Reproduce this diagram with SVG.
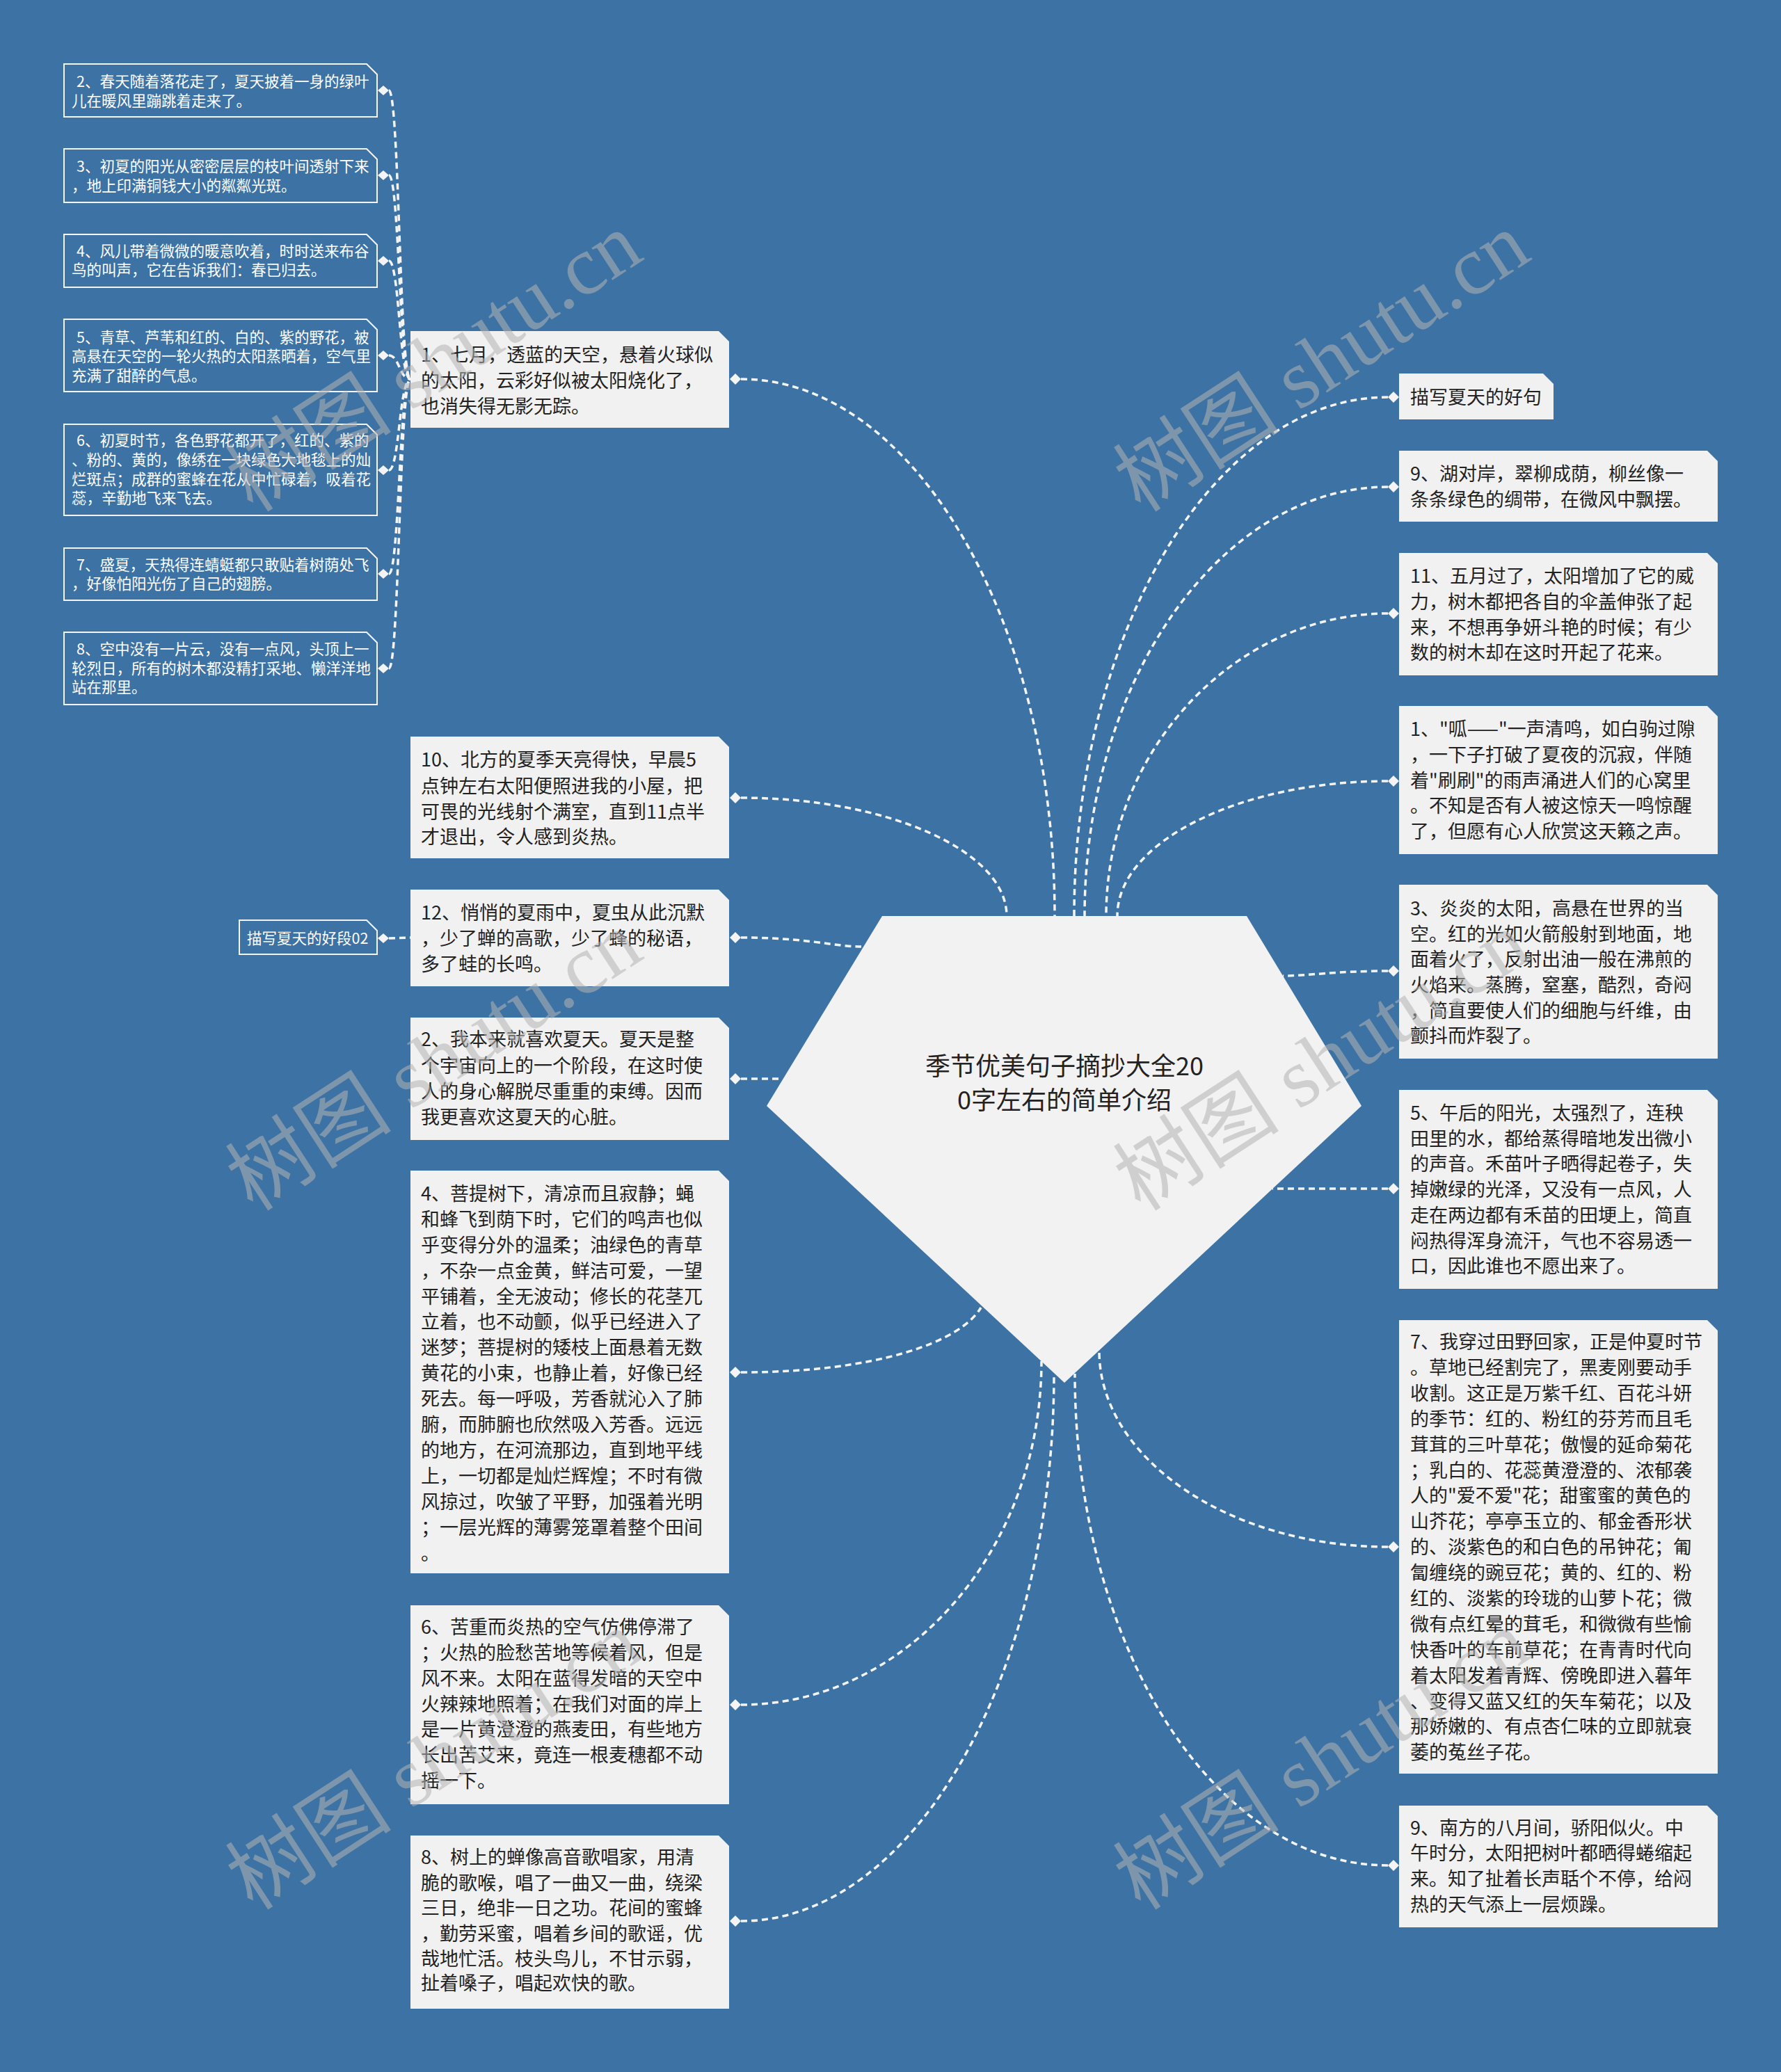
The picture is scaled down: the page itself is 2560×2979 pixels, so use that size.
<svg xmlns="http://www.w3.org/2000/svg" width="2560" height="2979" viewBox="0 0 2560 2979">
<style>
.bg{fill:#3c72a4}
.n{fill:#f1f1f1}
.s{fill:#3c72a4;stroke:#f4f4f4;stroke-width:2}
.c{fill:none;stroke:#f4f4f4;stroke-width:3.5;stroke-dasharray:9 6}
.d{fill:#f4f4f4}
.t{font-family:"Noto Sans CJK SC","Noto Sans",sans-serif;font-size:27px;fill:#222}
.ts{font-family:"Noto Sans CJK SC","Noto Sans",sans-serif;font-size:21.5px;fill:#ffffff}
.tc{font-family:"Noto Sans CJK SC","Noto Sans",sans-serif;font-size:36px;fill:#222;text-anchor:middle}
.w{font-family:"Liberation Serif","Noto Sans CJK SC",serif;font-size:120px;fill:#b4b4b4;opacity:0.55;text-anchor:middle}
</style>
<rect class="bg" x="0" y="0" width="2560" height="2979"/>

<g id="connectors">
<path class="c" d="M559,130 C574,130 574,545 590,545"/>
<path class="c" d="M559,252 C574,252 574,545 590,545"/>
<path class="c" d="M559,375 C574,375 574,545 590,545"/>
<path class="c" d="M559,511 C574,511 574,545 590,545"/>
<path class="c" d="M559,676 C574,676 574,545 590,545"/>
<path class="c" d="M559,825 C574,825 574,545 590,545"/>
<path class="c" d="M559,961 C574,961 574,545 590,545"/>
<path class="c" d="M559,1349 L590,1348"/>
<path class="c" d="M1065,545 C1313,545 1516,892 1516,1317"/>
<path class="c" d="M1065,1147 C1275,1147 1447,1223 1447,1317"/>
<path class="c" d="M1065,1348 C1160,1348 1200,1361 1238,1361"/>
<path class="c" d="M1065,1551 L1125,1551"/>
<path class="c" d="M1065,1973 C1260,1973 1380,1930 1410,1880"/>
<path class="c" d="M1065,2451 C1303,2451 1497,2229 1497,1957"/>
<path class="c" d="M1065,2762 C1313,2762 1515,2408 1515,1975"/>
<path class="c" d="M1995,571 C1747,571 1544,907 1544,1317"/>
<path class="c" d="M1995,700 C1755,700 1559,978 1559,1317"/>
<path class="c" d="M1995,882 C1776,882 1590,1078 1590,1317"/>
<path class="c" d="M1995,1123 C1783,1123 1606,1210 1606,1317"/>
<path class="c" d="M1995,1396 C1920,1396 1880,1403 1844,1403"/>
<path class="c" d="M1995,1709 L1829,1709"/>
<path class="c" d="M1995,2224 C1767,2224 1580,2097 1580,1942"/>
<path class="c" d="M1995,2682 C1743,2682 1545,2364 1545,1975"/>
</g>

<g id="center">
<polygon points="1268,1317 1792,1317 1957,1590 1530,1988 1102,1590" fill="#f2f2f2"/>
<text class="tc"><tspan x="1530" y="1546">季节优美句子摘抄大全20</tspan><tspan x="1530" y="1595">0字左右的简单介绍</tspan></text>
</g>

<g id="s2">
<polygon class="s" points="92,92 527,92 542,107 542,168 92,168"/>
<path class="d" d="M551,123 L559,130 L551,137 L543,130 Z"/>
<text class="ts"><tspan x="110" y="124.5">2、春天随着落花走了，夏天披着一身的绿叶</tspan><tspan x="103" y="152.5">儿在暖风里蹦跳着走来了。</tspan></text>
</g>
<g id="s3">
<polygon class="s" points="92,214 527,214 542,229 542,291 92,291"/>
<path class="d" d="M551,245 L559,252 L551,259 L543,252 Z"/>
<text class="ts"><tspan x="110" y="246.5">3、初夏的阳光从密密层层的枝叶间透射下来</tspan><tspan x="103" y="274.5">，地上印满铜钱大小的粼粼光斑。</tspan></text>
</g>
<g id="s4">
<polygon class="s" points="92,337 527,337 542,352 542,413 92,413"/>
<path class="d" d="M551,368 L559,375 L551,382 L543,375 Z"/>
<text class="ts"><tspan x="110" y="368.5">4、风儿带着微微的暖意吹着，时时送来布谷</tspan><tspan x="103" y="395.5">鸟的叫声，它在告诉我们：春已归去。</tspan></text>
</g>
<g id="s5">
<polygon class="s" points="92,459 527,459 542,474 542,563 92,563"/>
<path class="d" d="M551,504 L559,511 L551,518 L543,511 Z"/>
<text class="ts"><tspan x="110" y="492.5">5、青草、芦苇和红的、白的、紫的野花，被</tspan><tspan x="103" y="519.5">高悬在天空的一轮火热的太阳蒸晒着，空气里</tspan><tspan x="103" y="547.5">充满了甜醉的气息。</tspan></text>
</g>
<g id="s6">
<polygon class="s" points="92,610 527,610 542,625 542,741 92,741"/>
<path class="d" d="M551,669 L559,676 L551,683 L543,676 Z"/>
<text class="ts"><tspan x="110" y="641">6、初夏时节，各色野花都开了，红的、紫的</tspan><tspan x="103" y="669">、粉的、黄的，像绣在一块绿色大地毯上的灿</tspan><tspan x="103" y="697">烂斑点；成群的蜜蜂在花从中忙碌着，吸着花</tspan><tspan x="103" y="724">蕊，辛勤地飞来飞去。</tspan></text>
</g>
<g id="s7">
<polygon class="s" points="92,788 527,788 542,803 542,863 92,863"/>
<path class="d" d="M551,818 L559,825 L551,832 L543,825 Z"/>
<text class="ts"><tspan x="110" y="819.5">7、盛夏，天热得连蜻蜓都只敢贴着树荫处飞</tspan><tspan x="103" y="846.5">，好像怕阳光伤了自己的翅膀。</tspan></text>
</g>
<g id="s8">
<polygon class="s" points="92,909 527,909 542,924 542,1013 92,1013"/>
<path class="d" d="M551,954 L559,961 L551,968 L543,961 Z"/>
<text class="ts"><tspan x="110" y="940.5">8、空中没有一片云，没有一点风，头顶上一</tspan><tspan x="103" y="968.5">轮烈日，所有的树木都没精打采地、懒洋洋地</tspan><tspan x="103" y="995.5">站在那里。</tspan></text>
</g>
<g id="s02">
<polygon class="s" points="344,1323 527,1323 542,1338 542,1372 344,1372"/>
<path class="d" d="M551,1342 L559,1349 L551,1356 L543,1349 Z"/>
<text class="ts"><tspan x="355" y="1356.5">描写夏天的好段02</tspan></text>
</g>

<g id="L1">
<polygon class="n" points="590,476 1033,476 1048,491 1048,615 590,615"/>
<path class="d" d="M1057,537 L1065,545 L1057,553 L1049,545 Z"/>
<text class="t"><tspan x="605" y="520">1、七月，透蓝的天空，悬着火球似</tspan><tspan x="605" y="557">的太阳，云彩好似被太阳烧化了，</tspan><tspan x="605" y="594">也消失得无影无踪。</tspan></text>
</g>
<g id="L10">
<polygon class="n" points="590,1059 1033,1059 1048,1074 1048,1234 590,1234"/>
<path class="d" d="M1057,1139 L1065,1147 L1057,1155 L1049,1147 Z"/>
<text class="t"><tspan x="605" y="1102">10、北方的夏季天亮得快，早晨5</tspan><tspan x="605" y="1140">点钟左右太阳便照进我的小屋，把</tspan><tspan x="605" y="1177">可畏的光线射个满室，直到11点半</tspan><tspan x="605" y="1213">才退出，令人感到炎热。</tspan></text>
</g>
<g id="L12">
<polygon class="n" points="590,1279 1033,1279 1048,1294 1048,1418 590,1418"/>
<path class="d" d="M1057,1340 L1065,1348 L1057,1356 L1049,1348 Z"/>
<text class="t"><tspan x="605" y="1322">12、悄悄的夏雨中，夏虫从此沉默</tspan><tspan x="605" y="1359">，少了蝉的高歌，少了蜂的秘语，</tspan><tspan x="605" y="1396">多了蛙的长鸣。</tspan></text>
</g>
<g id="L2">
<polygon class="n" points="590,1463 1033,1463 1048,1478 1048,1639 590,1639"/>
<path class="d" d="M1057,1543 L1065,1551 L1057,1559 L1049,1551 Z"/>
<text class="t"><tspan x="605" y="1504">2、我本来就喜欢夏天。夏天是整</tspan><tspan x="605" y="1542">个宇宙向上的一个阶段，在这时使</tspan><tspan x="605" y="1579">人的身心解脱尽重重的束缚。因而</tspan><tspan x="605" y="1616">我更喜欢这夏天的心脏。</tspan></text>
</g>
<g id="L4">
<polygon class="n" points="590,1683 1033,1683 1048,1698 1048,2262 590,2262"/>
<path class="d" d="M1057,1965 L1065,1973 L1057,1981 L1049,1973 Z"/>
<text class="t"><tspan x="605" y="1726">4、菩提树下，清凉而且寂静；蝇</tspan><tspan x="605" y="1763">和蜂飞到荫下时，它们的鸣声也似</tspan><tspan x="605" y="1800">乎变得分外的温柔；油绿色的青草</tspan><tspan x="605" y="1837">，不杂一点金黄，鲜洁可爱，一望</tspan><tspan x="605" y="1874">平铺着，全无波动；修长的花茎兀</tspan><tspan x="605" y="1910">立着，也不动颤，似乎已经进入了</tspan><tspan x="605" y="1947">迷梦；菩提树的矮枝上面悬着无数</tspan><tspan x="605" y="1984">黄花的小束，也静止着，好像已经</tspan><tspan x="605" y="2021">死去。每一呼吸，芳香就沁入了肺</tspan><tspan x="605" y="2058">腑，而肺腑也欣然吸入芳香。远远</tspan><tspan x="605" y="2095">的地方，在河流那边，直到地平线</tspan><tspan x="605" y="2132">上，一切都是灿烂辉煌；不时有微</tspan><tspan x="605" y="2169">风掠过，吹皱了平野，加强着光明</tspan><tspan x="605" y="2206">；一层光辉的薄雾笼罩着整个田间</tspan><tspan x="605" y="2243">。</tspan></text>
</g>
<g id="L6">
<polygon class="n" points="590,2308 1033,2308 1048,2323 1048,2594 590,2594"/>
<path class="d" d="M1057,2443 L1065,2451 L1057,2459 L1049,2451 Z"/>
<text class="t"><tspan x="605" y="2349">6、苦重而炎热的空气仿佛停滞了</tspan><tspan x="605" y="2386">；火热的脸愁苦地等候着风，但是</tspan><tspan x="605" y="2423">风不来。太阳在蓝得发暗的天空中</tspan><tspan x="605" y="2460">火辣辣地照着；在我们对面的岸上</tspan><tspan x="605" y="2496">是一片黄澄澄的燕麦田，有些地方</tspan><tspan x="605" y="2533">长出苦艾来，竟连一根麦穗都不动</tspan><tspan x="605" y="2570">摇一下。</tspan></text>
</g>
<g id="L8">
<polygon class="n" points="590,2639 1033,2639 1048,2654 1048,2888 590,2888"/>
<path class="d" d="M1057,2754 L1065,2762 L1057,2770 L1049,2762 Z"/>
<text class="t"><tspan x="605" y="2680">8、树上的蝉像高音歌唱家，用清</tspan><tspan x="605" y="2717">脆的歌喉，唱了一曲又一曲，绕梁</tspan><tspan x="605" y="2753">三日，绝非一日之功。花间的蜜蜂</tspan><tspan x="605" y="2790">，勤劳采蜜，唱着乡间的歌谣，优</tspan><tspan x="605" y="2826">哉地忙活。枝头鸟儿，不甘示弱，</tspan><tspan x="605" y="2861">扯着嗓子，唱起欢快的歌。</tspan></text>
</g>

<g id="R0">
<polygon class="n" points="2011,537 2218,537 2233,552 2233,603 2011,603"/>
<path class="d" d="M2003,563 L2011,571 L2003,579 L1995,571 Z"/>
<text class="t"><tspan x="2027" y="581">描写夏天的好句</tspan></text>
</g>
<g id="R9">
<polygon class="n" points="2011,648 2454,648 2469,663 2469,750 2011,750"/>
<path class="d" d="M2003,692 L2011,700 L2003,708 L1995,700 Z"/>
<text class="t"><tspan x="2027" y="691">9、湖对岸，翠柳成荫，柳丝像一</tspan><tspan x="2027" y="728">条条绿色的绸带，在微风中飘摆。</tspan></text>
</g>
<g id="R11">
<polygon class="n" points="2011,795 2454,795 2469,810 2469,971 2011,971"/>
<path class="d" d="M2003,874 L2011,882 L2003,890 L1995,882 Z"/>
<text class="t"><tspan x="2027" y="838">11、五月过了，太阳增加了它的威</tspan><tspan x="2027" y="875">力，树木都把各自的伞盖伸张了起</tspan><tspan x="2027" y="912">来，不想再争妍斗艳的时候；有少</tspan><tspan x="2027" y="948">数的树木却在这时开起了花来。</tspan></text>
</g>
<g id="R1">
<polygon class="n" points="2011,1015 2454,1015 2469,1030 2469,1228 2011,1228"/>
<path class="d" d="M2003,1115 L2011,1123 L2003,1131 L1995,1123 Z"/>
<text class="t"><tspan x="2027" y="1058">1、"呱——"一声清鸣，如白驹过隙</tspan><tspan x="2027" y="1095">，一下子打破了夏夜的沉寂，伴随</tspan><tspan x="2027" y="1132">着"刷刷"的雨声涌进人们的心窝里</tspan><tspan x="2027" y="1168">。不知是否有人被这惊天一鸣惊醒</tspan><tspan x="2027" y="1205">了，但愿有心人欣赏这天籁之声。</tspan></text>
</g>
<g id="R3">
<polygon class="n" points="2011,1272 2454,1272 2469,1287 2469,1522 2011,1522"/>
<path class="d" d="M2003,1388 L2011,1396 L2003,1404 L1995,1396 Z"/>
<text class="t"><tspan x="2027" y="1316">3、炎炎的太阳，高悬在世界的当</tspan><tspan x="2027" y="1353">空。红的光如火箭般射到地面，地</tspan><tspan x="2027" y="1389">面着火了，反射出油一般在沸煎的</tspan><tspan x="2027" y="1426">火焰来。蒸腾，窒塞，酷烈，奇闷</tspan><tspan x="2027" y="1463">，简直要使人们的细胞与纤维，由</tspan><tspan x="2027" y="1499">颤抖而炸裂了。</tspan></text>
</g>
<g id="R5">
<polygon class="n" points="2011,1567 2454,1567 2469,1582 2469,1853 2011,1853"/>
<path class="d" d="M2003,1701 L2011,1709 L2003,1717 L1995,1709 Z"/>
<text class="t"><tspan x="2027" y="1610">5、午后的阳光，太强烈了，连秧</tspan><tspan x="2027" y="1647">田里的水，都给蒸得暗地发出微小</tspan><tspan x="2027" y="1683">的声音。禾苗叶子晒得起卷子，失</tspan><tspan x="2027" y="1720">掉嫩绿的光泽，又没有一点风，人</tspan><tspan x="2027" y="1757">走在两边都有禾苗的田埂上，简直</tspan><tspan x="2027" y="1794">闷热得浑身流汗，气也不容易透一</tspan><tspan x="2027" y="1830">口，因此谁也不愿出来了。</tspan></text>
</g>
<g id="R7">
<polygon class="n" points="2011,1898 2454,1898 2469,1913 2469,2550 2011,2550"/>
<path class="d" d="M2003,2216 L2011,2224 L2003,2232 L1995,2224 Z"/>
<text class="t"><tspan x="2027" y="1939">7、我穿过田野回家，正是仲夏时节</tspan><tspan x="2027" y="1976">。草地已经割完了，黑麦刚要动手</tspan><tspan x="2027" y="2013">收割。这正是万紫千红、百花斗妍</tspan><tspan x="2027" y="2050">的季节：红的、粉红的芬芳而且毛</tspan><tspan x="2027" y="2087">茸茸的三叶草花；傲慢的延命菊花</tspan><tspan x="2027" y="2124">；乳白的、花蕊黄澄澄的、浓郁袭</tspan><tspan x="2027" y="2160">人的"爱不爱"花；甜蜜蜜的黄色的</tspan><tspan x="2027" y="2197">山芥花；亭亭玉立的、郁金香形状</tspan><tspan x="2027" y="2234">的、淡紫色的和白色的吊钟花；匍</tspan><tspan x="2027" y="2271">匐缠绕的豌豆花；黄的、红的、粉</tspan><tspan x="2027" y="2308">红的、淡紫的玲珑的山萝卜花；微</tspan><tspan x="2027" y="2345">微有点红晕的茸毛，和微微有些愉</tspan><tspan x="2027" y="2382">快香叶的车前草花；在青青时代向</tspan><tspan x="2027" y="2419">着太阳发着青辉、傍晚即进入暮年</tspan><tspan x="2027" y="2456">、变得又蓝又红的矢车菊花；以及</tspan><tspan x="2027" y="2492">那娇嫩的、有点杏仁味的立即就衰</tspan><tspan x="2027" y="2529">萎的菟丝子花。</tspan></text>
</g>
<g id="R9b">
<polygon class="n" points="2011,2596 2454,2596 2469,2611 2469,2771 2011,2771"/>
<path class="d" d="M2003,2674 L2011,2682 L2003,2690 L1995,2682 Z"/>
<text class="t"><tspan x="2027" y="2638">9、南方的八月间，骄阳似火。中</tspan><tspan x="2027" y="2674">午时分，太阳把树叶都晒得蜷缩起</tspan><tspan x="2027" y="2711">来。知了扯着长声聒个不停，给闷</tspan><tspan x="2027" y="2748">热的天气添上一层烦躁。</tspan></text>
</g>

<g id="watermarks">
<text class="w" transform="translate(646,555) rotate(-33)">树图 shutu.cn</text>
<text class="w" transform="translate(1922,555) rotate(-33)">树图 shutu.cn</text>
<text class="w" transform="translate(646,1560) rotate(-33)">树图 shutu.cn</text>
<text class="w" transform="translate(1922,1560) rotate(-33)">树图 shutu.cn</text>
<text class="w" transform="translate(646,2565) rotate(-33)">树图 shutu.cn</text>
<text class="w" transform="translate(1922,2565) rotate(-33)">树图 shutu.cn</text>
</g>
</svg>
